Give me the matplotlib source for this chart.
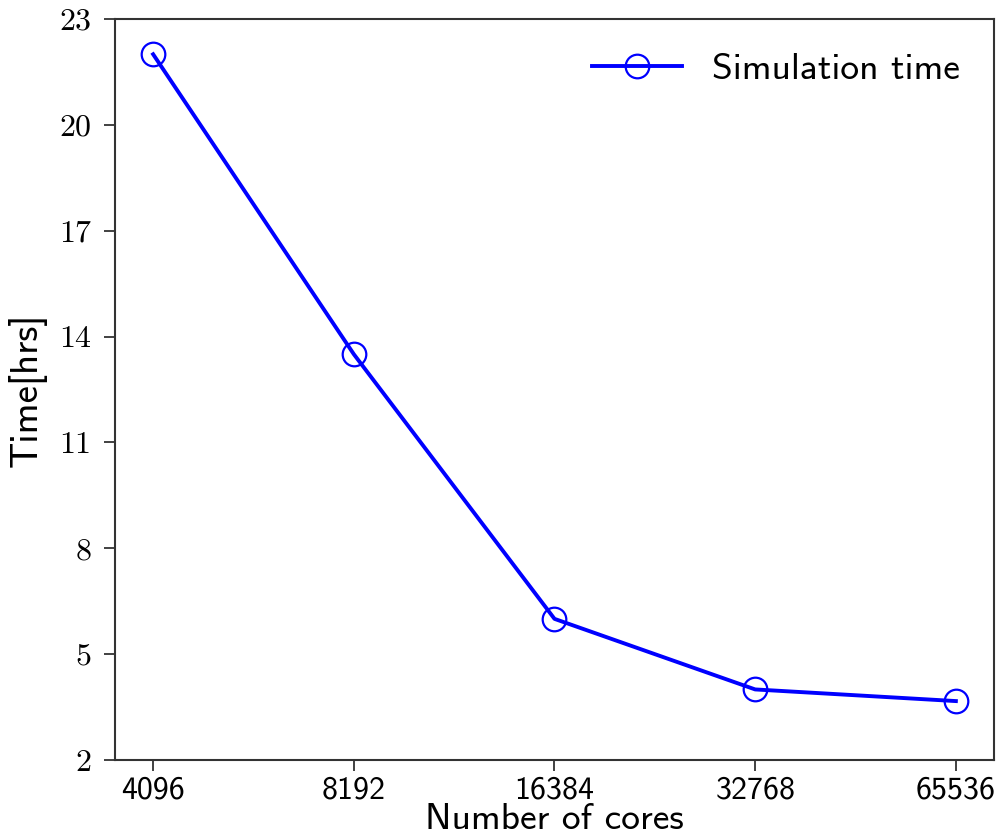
import numpy as np
import matplotlib.pyplot as plt

cores = ["4096", "8192", "16384", "32768", "65536"]
sim_time = [22.0, 13.5, 6.0, 4.0, 3.67]
yticks = [2, 5, 8, 11, 14, 17, 20, 23]

fig = plt.figure(figsize=(10, 8.36), dpi=100)
ax = fig.add_axes([0.115, 0.0909, 0.879, 0.8864])

x = np.arange(len(cores))
ax.plot(x, sim_time, color="blue", lw=2.8, marker="o", ms=17,
        mfc="none", mec="blue", mew=1.6, label="Simulation time")

ax.set_xlim(-0.19, 4.19)
ax.set_ylim(2, 23)
ax.set_xticks(x)
ax.set_xticklabels(cores, fontfamily="cmss10", fontsize=23)
ax.set_yticks(yticks)
ax.set_yticklabels([str(v) for v in yticks], fontfamily="cmr10", fontsize=23)
ax.tick_params(length=8, width=1.3, color="#333333")
ax.tick_params(axis="y", pad=9)
ax.tick_params(axis="x", pad=3)

for s in ax.spines.values():
    s.set_linewidth(1.5)
    s.set_color("#333333")

# x label sits right at the bottom edge, as in the original
xl = ax.set_xlabel("Number of cores", fontfamily="cmss10", fontsize=27)
xl.set_verticalalignment("bottom")
ax.xaxis.set_label_coords(0.5, -0.1025)
ax.set_ylabel("Time[hrs]", fontfamily="cmss10", fontsize=28)
ax.yaxis.set_label_coords(-0.078, 0.5)

ax.legend(loc="upper right", frameon=False, handlelength=2.4,
          prop={"family": "cmss10", "size": 27})

fig.savefig("out.png", dpi=100)
